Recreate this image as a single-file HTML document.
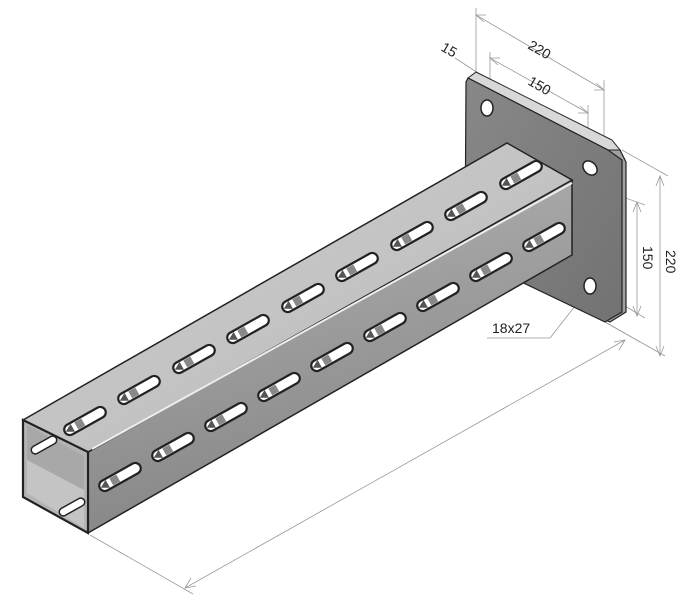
<!DOCTYPE html>
<html><head><meta charset="utf-8"><style>
html,body{margin:0;padding:0;background:#fff;}
svg{display:block;}
text{font-family:"Liberation Sans",sans-serif;font-size:14px;fill:#222;}
</style></head><body>
<svg width="700" height="612" viewBox="0 0 700 612" xmlns="http://www.w3.org/2000/svg">
<defs>
<linearGradient id="top" x1="0" y1="0" x2="1" y2="1">
<stop offset="0" stop-color="#cfcfcf"/><stop offset="1" stop-color="#b8b8b8"/></linearGradient>
<linearGradient id="side" x1="0" y1="0" x2="0.3" y2="1">
<stop offset="0" stop-color="#b4b4b4"/><stop offset="1" stop-color="#858585"/></linearGradient>
<linearGradient id="plate" x1="0" y1="0" x2="1" y2="1">
<stop offset="0" stop-color="#888"/><stop offset="1" stop-color="#727272"/></linearGradient>
<g id="slot">
<rect x="-23" y="-5.5" width="46" height="11" rx="5.5" fill="#fff" stroke="#222" stroke-width="2.2"/>
<rect x="-10" y="-4" width="8" height="8" fill="#888"/>
<path d="M-22,0 L-14,-4.5 L-14,4.5 Z" fill="#555"/>
</g>
</defs>
<g stroke="#999" stroke-width="0.8" fill="none">
<line x1="476" y1="8" x2="476" y2="75"/>
<line x1="604" y1="80" x2="604" y2="145"/>
<line x1="476" y1="15" x2="604" y2="90"/>
<line x1="490" y1="52" x2="490" y2="100"/>
<line x1="588" y1="105" x2="588" y2="170"/>
<line x1="490" y1="58" x2="588" y2="113"/>
<line x1="455" y1="58" x2="478" y2="73"/>
<line x1="622" y1="150" x2="668" y2="176"/>
<line x1="605" y1="322" x2="665" y2="356"/>
<line x1="660" y1="176" x2="660" y2="356"/>
<line x1="598" y1="188" x2="645" y2="205"/>
<line x1="598" y1="290" x2="645" y2="318"/>
<line x1="637" y1="202" x2="637" y2="316"/>
<line x1="487" y1="338" x2="550" y2="338"/>
<line x1="550" y1="338" x2="575" y2="306"/>
<line x1="90" y1="535" x2="193" y2="594"/>
<line x1="185" y1="588" x2="625" y2="340"/>
<line x1="605" y1="322" x2="640" y2="342"/>
</g>
<g stroke="#999" stroke-width="0.8" fill="none">
<path d="M486,15 L476,15 L484,22"/>
<path d="M594,90 L604,90 L596,83"/>
<path d="M500,58 L490,58 L498,65"/>
<path d="M578,113 L588,113 L580,106"/>
<path d="M656,186 L660,176 L664,186"/>
<path d="M656,346 L660,356 L664,346"/>
<path d="M633,212 L637,202 L641,212"/>
<path d="M633,306 L637,316 L641,306"/>
<path d="M191,578 L185,588 L196,586"/>
<path d="M619,350 L625,340 L614,342"/>
</g>
<text transform="translate(527,48) rotate(30)">220</text>
<text transform="translate(527,84) rotate(30)">150</text>
<text transform="translate(440,50) rotate(30)">15</text>
<text transform="translate(666,250) rotate(90)">220</text>
<text transform="translate(643,246) rotate(90)">150</text>
<text x="492" y="333">18x27</text>
<path d="M608,145 L620,150 L626,162 L626,312 L610,322 L605,320 Z" fill="#a0a0a0" stroke="#222" stroke-width="1.2"/>
<path d="M468,78 L476,72 L612,140 L620,150 L608,150 Z" fill="#d8d8d8" stroke="#222" stroke-width="1"/>
<path d="M466,82 L468,78 L608,150 L622,160 L622,312 L605,322 L465,255 Z" fill="url(#plate)" stroke="#222" stroke-width="1.2"/>
<ellipse cx="487" cy="108" rx="6" ry="8" fill="#fff" stroke="#222" stroke-width="1.5"/>
<ellipse cx="590" cy="168" rx="6" ry="8" transform="rotate(-45 590 168)" fill="#fff" stroke="#222" stroke-width="1.5"/>
<ellipse cx="590" cy="286" rx="6" ry="8" fill="#fff" stroke="#222" stroke-width="1.5"/>
<path d="M88,452 L572,180 L572,255 L88,533 Z" fill="url(#side)" stroke="#222" stroke-width="1.5"/>
<path d="M23,420 L507,143 L572,180 L88,452 Z" fill="url(#top)" stroke="#222" stroke-width="1.5"/>
<line x1="92" y1="449" x2="572" y2="183" stroke="#eee" stroke-width="2"/>
<path d="M23,420 L88,452 L88,533 L23,497 Z" fill="#b4b4b4" stroke="#222" stroke-width="2.2"/>
<path d="M27,425 L84,456 L84,528 L27,493 Z" fill="#a8a8a8"/>
<path d="M27,460 L84,490 L84,528 L27,493 Z" fill="#c4c4c4"/>
<rect x="-14" y="-4" width="28" height="8" rx="4" transform="translate(44,445) rotate(-29.3)" fill="#fff" stroke="#222" stroke-width="1.5"/>
<rect x="-14" y="-4" width="28" height="8" rx="4" transform="translate(72,507) rotate(-29.3)" fill="#fff" stroke="#222" stroke-width="1.5"/>
<g>
<use href="#slot" transform="translate(85,421) rotate(-29.3)"/>
<use href="#slot" transform="translate(139,390) rotate(-29.3)"/>
<use href="#slot" transform="translate(194,359) rotate(-29.3)"/>
<use href="#slot" transform="translate(248,329) rotate(-29.3)"/>
<use href="#slot" transform="translate(303,298) rotate(-29.3)"/>
<use href="#slot" transform="translate(357,267) rotate(-29.3)"/>
<use href="#slot" transform="translate(412,236) rotate(-29.3)"/>
<use href="#slot" transform="translate(466,206) rotate(-29.3)"/>
<use href="#slot" transform="translate(521,175) rotate(-29.3)"/>
</g>
<g>
<use href="#slot" transform="translate(120,477) rotate(-29.3)"/>
<use href="#slot" transform="translate(173,447) rotate(-29.3)"/>
<use href="#slot" transform="translate(226,417) rotate(-29.3)"/>
<use href="#slot" transform="translate(279,387) rotate(-29.3)"/>
<use href="#slot" transform="translate(332,357) rotate(-29.3)"/>
<use href="#slot" transform="translate(385,327) rotate(-29.3)"/>
<use href="#slot" transform="translate(438,297) rotate(-29.3)"/>
<use href="#slot" transform="translate(491,267) rotate(-29.3)"/>
<use href="#slot" transform="translate(544,237) rotate(-29.3)"/>
</g>
</svg>
</body></html>
